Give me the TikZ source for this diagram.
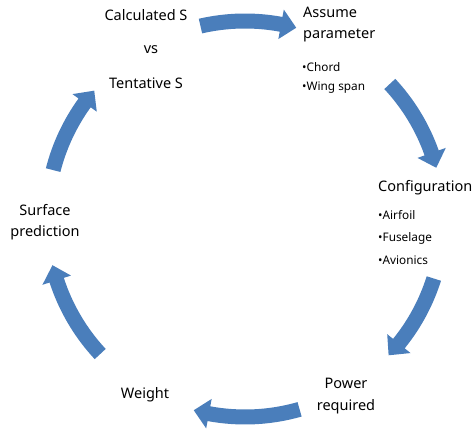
\documentclass[tikz,border=0pt]{standalone}
\usepackage{fontspec}
\setmainfont{Noto Sans}
\definecolor{arrowblue}{RGB}{74,126,187}
\newcommand\cyclearrow[2]{%
  \pgfmathsetmacro\hb{#2+4.5}%
  \fill[arrowblue] (#1:205.5) arc[start angle=#1, end angle=\hb, radius=205.5]
    -- (\hb:213) -- (#2:198) -- (\hb:183) -- (\hb:190.5)
    arc[start angle=\hb, end angle=#1, radius=190.5] -- cycle;}
\tikzset{
  lbl/.style={inner sep=0pt, font=\fontsize{14.5}{17}\selectfont},
  itm/.style={inner sep=0pt, anchor=west, font=\fontsize{11.8}{14}\selectfont},
}
\begin{document}
\begin{tikzpicture}[x=1pt,y=1pt]
\useasboundingbox (0,0) rectangle (474,-435);
\fill[white] (0,0) rectangle (474,-435);
\begin{scope}[shift={(245,-219)}]
  \cyclearrow{103}{75}
  \cyclearrow{43}{15}
  \cyclearrow{-17.5}{-43.5}
  \cyclearrow{-74}{-105}
  \cyclearrow{-137}{-166.5}
  \cyclearrow{165.7}{139.6}
\end{scope}
\node[lbl] (calc) at (146,-15) {Calculated S};
\node[lbl] (vs) at (151,-50) {vs};
\node[lbl] (tent) at (146,-83) {Tentative S};
\node[lbl,anchor=west] (assume) at (303,-12) {Assume};
\node[lbl,anchor=west] (param) at (303,-35) {parameter};
\node[itm] (chord) at (302,-67) {\textbullet Chord};
\node[itm] (wing) at (302,-88) {\textbullet Wing span};
\node[lbl,anchor=west] (config) at (378,-188) {Configuration};
\node[itm] (airfoil) at (378,-215) {\textbullet Airfoil};
\node[itm] (fuse) at (378,-238) {\textbullet Fuselage};
\node[itm] (avio) at (378,-260) {\textbullet Avionics};
\node[lbl] (surf) at (45,-210) {Surface};
\node[lbl] (pred) at (45,-233) {prediction};
\node[lbl] (power) at (346,-383) {Power};
\node[lbl] (req) at (346,-407) {required};
\node[lbl] (weight) at (145,-395) {Weight};
\end{tikzpicture}
\end{document}
